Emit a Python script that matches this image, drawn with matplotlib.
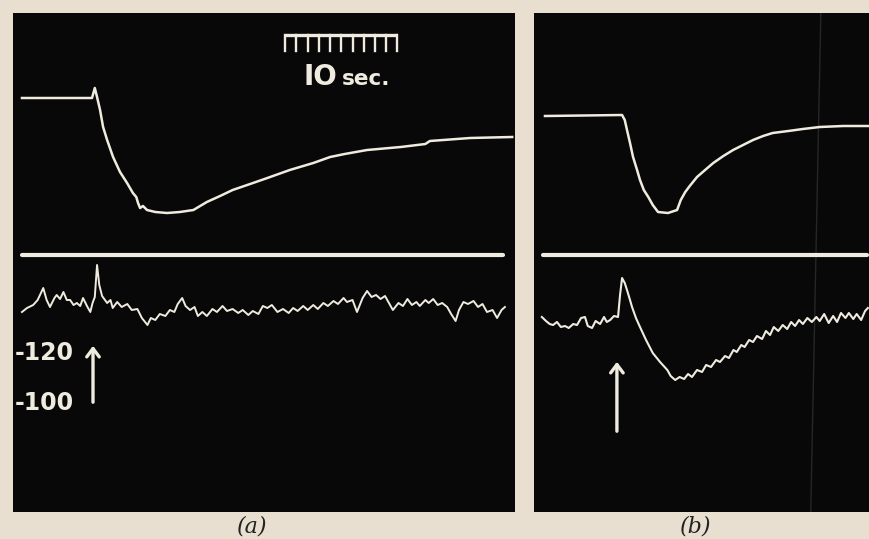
import matplotlib
matplotlib.use("Agg")
import matplotlib.pyplot as plt

# ---------------- data (time in s, deflection in arbitrary units) ----------------
# Panel (a)
a_top_t = [0.8, 7.05, 7.3, 7.5, 7.77, 8.04, 8.4, 8.93, 9.55, 10.18, 10.7, 11.0, 11.16,
           11.34, 11.6, 11.96, 12.7, 13.75, 14.9, 16.1, 16.7, 17.3, 18.48, 19.6, 21.16,
           22.7, 24.7, 26.8, 28.3, 29.6, 31.6, 34.6, 36.8, 37.2, 40.8, 44.55]
a_top_y = [82.8, 82.8, 84.8, 83.0, 80.4, 77.0, 74.4, 71.0, 68.0, 65.8, 63.8, 63.0, 61.8,
           60.8, 61.2, 60.4, 60.0, 59.8, 60.0, 60.4, 61.2, 62.0, 63.2, 64.4, 65.6,
           66.8, 68.4, 69.8, 71.0, 71.6, 72.4, 73.0, 73.6, 74.2, 74.8, 75.0]

a_base_t = [0.8, 43.75]
a_base_y = [51.4, 51.4]

a_bot_t = [0.8, 1.25, 1.8, 2.2, 2.7, 3.0, 3.3, 3.7, 3.9, 4.2, 4.5, 4.8, 5.1, 5.4, 5.7,
           6.0, 6.25, 6.6, 6.9, 7.1, 7.3, 7.5, 7.7, 7.95, 8.4, 8.7, 8.9, 9.3, 9.7, 10.2,
           10.6, 11.1, 11.5, 12.0, 12.3, 12.7, 13.1, 13.6, 14.0, 14.4, 14.7, 15.1, 15.4,
           15.8, 16.2, 16.5, 16.9, 17.3, 17.8, 18.2, 18.7, 19.1, 19.6, 20.1, 20.5, 21.0,
           21.4, 21.9, 22.3, 22.7, 23.1, 23.6, 24.1, 24.6, 25.0, 25.4, 25.9, 26.3, 26.8,
           27.2, 27.7, 28.1, 28.6, 29.0, 29.5, 29.8, 30.3, 30.7, 31.2, 31.6, 32.0, 32.4,
           32.8, 33.2, 33.6, 33.9, 34.4, 34.8, 35.2, 35.6, 36.0, 36.3, 36.8, 37.1, 37.5,
           37.9, 38.3, 38.75, 39.1, 39.5, 39.8, 40.2, 40.6, 41.1, 41.5, 41.9, 42.3, 42.8,
           43.2, 43.6, 43.9]
a_bot_y = [40.0, 40.8, 41.4, 42.4, 44.8, 42.4, 41.0, 42.8, 43.4, 42.6, 44.0, 42.4, 42.4,
           41.4, 41.8, 41.2, 42.8, 41.2, 40.0, 41.8, 43.0, 49.4, 45.4, 43.2, 41.8, 42.4,
           40.8, 42.0, 41.0, 41.6, 40.4, 40.6, 38.8, 37.4, 38.8, 38.4, 39.6, 39.2, 40.4,
           40.0, 41.6, 42.8, 41.2, 40.4, 41.0, 39.2, 40.0, 39.2, 40.6, 40.0, 41.2, 40.2,
           40.6, 39.8, 40.4, 39.4, 40.2, 39.6, 41.2, 40.8, 41.4, 40.0, 40.6, 39.8, 40.8,
           40.2, 41.2, 40.4, 41.4, 40.6, 41.8, 41.2, 42.2, 41.6, 42.8, 42.0, 42.4, 40.0,
           42.8, 44.2, 43.0, 43.4, 42.6, 43.2, 41.6, 40.4, 41.8, 41.2, 42.6, 41.4, 42.0,
           41.2, 42.4, 41.8, 42.6, 41.4, 41.8, 41.0, 39.6, 38.2, 40.4, 42.0, 41.6, 42.2,
           41.0, 41.6, 40.0, 40.4, 38.8, 40.4, 41.0]

# Panel (b)
b_top_t = [0.98, 7.86, 8.1, 8.3, 8.57, 8.84, 9.2, 9.46, 9.8, 10.2, 10.6, 11.07, 11.96,
           12.77, 13.1, 13.5, 13.9, 14.55, 15.27, 16.0, 16.9, 17.77, 18.66, 19.55, 20.45,
           21.3, 22.7, 24.0, 25.5, 27.6, 29.8]
b_top_y = [79.2, 79.4, 78.4, 76.4, 73.8, 71.0, 68.4, 66.4, 64.4, 63.0, 61.4, 60.0, 59.8,
           60.4, 62.4, 64.0, 65.2, 67.0, 68.4, 69.8, 71.2, 72.4, 73.4, 74.4, 75.2,
           75.8, 76.2, 76.6, 77.0, 77.2, 77.2]

b_base_t = [0.8, 29.7]
b_base_y = [51.4, 51.4]

b_bot_t = [0.7, 1.07, 1.4, 1.7, 2.05, 2.4, 2.77, 3.1, 3.5, 3.84, 4.2, 4.55, 4.8, 5.18,
           5.5, 5.9, 6.25, 6.5, 6.8, 7.14, 7.5, 7.68, 7.86, 8.1, 8.3, 8.57, 8.75, 9.1,
           9.46, 10.0, 10.6, 11.25, 11.9, 12.2, 12.6, 13.0, 13.4, 13.75, 14.1, 14.55,
           15.0, 15.36, 15.8, 16.25, 16.6, 17.05, 17.4, 17.8, 18.1, 18.5, 18.8, 19.2,
           19.55, 19.9, 20.36, 20.7, 21.07, 21.4, 21.8, 22.2, 22.6, 22.95, 23.3, 23.66,
           24.0, 24.4, 24.8, 25.2, 25.5, 25.9, 26.3, 26.7, 27.05, 27.4, 27.8, 28.1, 28.5,
           28.8, 29.2, 29.55, 29.8]
b_bot_y = [39.0, 38.2, 37.6, 37.4, 38.0, 37.0, 37.2, 36.8, 37.6, 37.4, 38.8, 39.0, 37.2,
           36.8, 38.2, 37.6, 39.0, 38.0, 38.4, 39.2, 39.0, 43.4, 46.8, 45.8, 44.4, 42.4,
           41.0, 38.8, 37.0, 34.4, 31.8, 30.0, 28.4, 27.2, 26.4, 27.0, 26.6, 27.6, 27.0,
           28.4, 28.0, 29.4, 29.0, 30.4, 30.0, 31.2, 30.8, 32.4, 32.0, 33.4, 33.0, 34.4,
           34.0, 35.2, 34.6, 36.2, 35.4, 37.0, 36.2, 37.4, 36.6, 38.0, 37.2, 38.4, 37.6,
           38.8, 38.0, 39.0, 38.2, 39.6, 37.8, 39.2, 38.0, 39.8, 38.8, 39.8, 38.6, 39.6,
           38.4, 40.2, 40.8]

scale_ticks = [0, 1, 2, 3, 4, 5, 6, 7, 8, 9, 10]   # 10 s time marker, 1 s divisions
scale_start = 24.3
scale_label_num = "IO"
scale_label_unit = "sec."
voltage_labels = ["-120", "-100"]
captions = ["(a)", "(b)"]

# ---------------- styling ----------------
PAPER = "#e8dfd1"
SCREEN = "#080808"
TRACE = "#efebdf"

fig = plt.figure(figsize=(8.69, 5.39), dpi=100, facecolor=PAPER)

ax_a = fig.add_axes([13/869, 27/539, 502/869, 499/539])
ax_b = fig.add_axes([534/869, 27/539, 335/869, 499/539])

for ax, xmax in ((ax_a, 44.8), (ax_b, 29.9)):
    ax.set_facecolor(SCREEN)
    ax.set_xlim(0, xmax)
    ax.set_ylim(0, 99.8)
    ax.set_xticks([])
    ax.set_yticks([])
    for s in ax.spines.values():
        s.set_visible(False)

# faint scratch on (b)
ax_b.plot([25.6, 24.7], [99.8, 0], color="#262626", lw=1.0, zorder=1)

lw_trace = 1.8
# panel (a)
ax_a.plot(a_top_t, a_top_y, color=TRACE, lw=lw_trace, solid_joinstyle="round")
ax_a.plot(a_base_t, a_base_y, color=TRACE, lw=3.0, solid_capstyle="round")
ax_a.plot(a_bot_t, a_bot_y, color=TRACE, lw=1.4, solid_joinstyle="round")
# panel (b)
ax_b.plot(b_top_t, b_top_y, color=TRACE, lw=lw_trace, solid_joinstyle="round")
ax_b.plot(b_base_t, b_base_y, color=TRACE, lw=3.0, solid_capstyle="round")
ax_b.plot(b_bot_t, b_bot_y, color=TRACE, lw=1.5, solid_joinstyle="round")

# time marker
ax_a.plot([scale_start + scale_ticks[0], scale_start + scale_ticks[-1]], [95.4, 95.4],
          color=TRACE, lw=2.4, solid_capstyle="butt")
for tk in scale_ticks:
    ax_a.plot([scale_start + tk, scale_start + tk], [95.4, 92.2], color=TRACE, lw=1.7)
ax_a.text(25.9, 85.4, scale_label_num, color=TRACE, fontsize=20, fontweight="bold",
          family="DejaVu Sans", ha="left", va="baseline")
ax_a.text(29.35, 85.4, scale_label_unit, color=TRACE, fontsize=15.5, fontweight="bold",
          family="DejaVu Sans", ha="left", va="baseline")

# voltage labels
ax_a.text(0.15, 31.8, voltage_labels[0], color=TRACE, fontsize=17, fontweight="bold",
          family="DejaVu Sans", ha="left", va="center")
ax_a.text(0.15, 21.8, voltage_labels[1], color=TRACE, fontsize=17, fontweight="bold",
          family="DejaVu Sans", ha="left", va="center")

# stimulus arrows
arrow_kw = dict(arrowstyle="->,head_length=0.6,head_width=0.45", color=TRACE, lw=2.4)
ax_a.annotate("", xy=(7.14, 33.8), xytext=(7.14, 21.4), arrowprops=arrow_kw)
ax_b.annotate("", xy=(7.4, 30.6), xytext=(7.4, 15.6), arrowprops=arrow_kw)

# captions
fig.text(252/869, 1 - 527/539, captions[0], fontsize=16, style="italic",
         family="DejaVu Serif", color="#222222", ha="center", va="center")
fig.text(696/869, 1 - 527/539, captions[1], fontsize=16, style="italic",
         family="DejaVu Serif", color="#222222", ha="center", va="center")

fig.savefig("out.png", dpi=100, facecolor=PAPER)
